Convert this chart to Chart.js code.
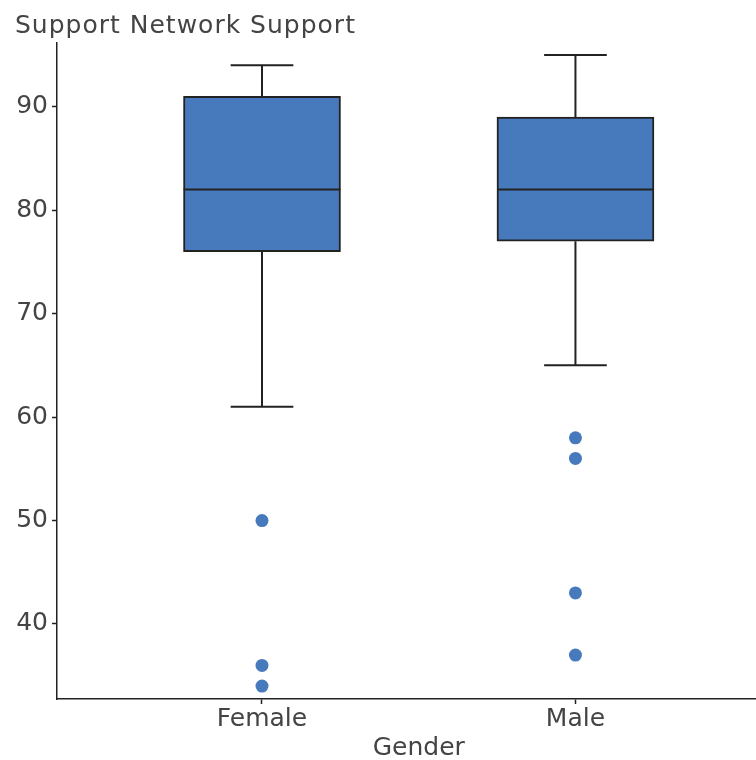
<!DOCTYPE html>
<html><head><meta charset="utf-8">
<script src="https://cdn.jsdelivr.net/npm/chart.js@4"></script>
<style>html,body{margin:0;padding:0;background:#fff}</style>
</head><body>
<canvas id="c" width="756" height="760"></canvas>
<script>
const categories = ['Female', 'Male'];
const lowerWhisker = [61, 65];
const q1 = [76, 77];
const median = [82, 82];
const q3 = [91, 89];
const upperWhisker = [94, 95];
const outliersFemale = [50, 36, 34];
const outliersMale = [58, 56, 43, 37];
const yTicks = [40, 50, 60, 70, 80, 90];
const xTitle = 'Gender';
const yTitle = 'Support Network Support';

const outliers = [outliersFemale, outliersMale];
const BOX_HALF = 0.25, CAP_HALF = 0.1;
const FILL = 'rgb(71,122,189)';
const LINE = '#222';
const TEXT = '#444';
const FONT = 'DejaVu Sans';

const boxData = categories.map((c, i) => ({x: i, y: [q1[i], q3[i]]}));
const outlierData = outliers.flatMap((arr, i) => arr.map(v => ({x: i, y: v})));

const whiskerPlugin = {
  id: 'whiskers',
  afterDatasetsDraw(chart) {
    const {ctx, scales: {x, y}} = chart;
    ctx.save();
    ctx.strokeStyle = LINE;
    ctx.lineWidth = 2;
    categories.forEach((c, i) => {
      const cx = x.getPixelForValue(i);
      const cl = x.getPixelForValue(i - CAP_HALF), cr = x.getPixelForValue(i + CAP_HALF);
      const bl = x.getPixelForValue(i - BOX_HALF), br = x.getPixelForValue(i + BOX_HALF);
      const yU = y.getPixelForValue(upperWhisker[i]);
      const yL = y.getPixelForValue(lowerWhisker[i]);
      const yM = y.getPixelForValue(median[i]);
      ctx.beginPath();
      ctx.moveTo(cx, y.getPixelForValue(q3[i])); ctx.lineTo(cx, yU);
      ctx.moveTo(cl, yU); ctx.lineTo(cr, yU);
      ctx.moveTo(cx, y.getPixelForValue(q1[i])); ctx.lineTo(cx, yL);
      ctx.moveTo(cl, yL); ctx.lineTo(cr, yL);
      ctx.moveTo(bl, yM); ctx.lineTo(br, yM);
      ctx.stroke();
    });
    ctx.restore();
  }
};

const titlePlugin = {
  id: 'titles',
  afterDraw(chart) {
    const {ctx, scales: {x}} = chart;
    ctx.save();
    ctx.fillStyle = TEXT;
    ctx.font = '25px "' + FONT + '"';
    ctx.letterSpacing = '1px';
    ctx.textAlign = 'left';
    ctx.textBaseline = 'alphabetic';
    ctx.fillText(yTitle, 15, 33);
    ctx.letterSpacing = '0px';
    ctx.textAlign = 'center';
    ctx.textBaseline = 'middle';
    const mid = (categories.length - 1) / 2;
    ctx.fillText(xTitle, x.getPixelForValue(mid), 748);
    ctx.restore();
  }
};

new Chart(document.getElementById('c'), {
  type: 'bar',
  data: {
    datasets: [
      {
        type: 'bar',
        data: boxData,
        backgroundColor: FILL,
        borderColor: LINE,
        borderWidth: 2,
        borderSkipped: false,
        barThickness: 157
      },
      {
        type: 'scatter',
        data: outlierData,
        backgroundColor: FILL,
        borderWidth: 0,
        pointRadius: 6.5,
        pointHoverRadius: 6.5
      }
    ]
  },
  options: {
    responsive: false,
    animation: false,
    devicePixelRatio: 1,
    layout: {autoPadding: false, padding: {top: 43, left: 0, right: 0, bottom: 0}},
    plugins: {legend: {display: false}, tooltip: {enabled: false}},
    scales: {
      x: {
        type: 'linear',
        offset: false,
        min: -0.654,
        max: 1.576,
        afterBuildTicks: s => { s.ticks = categories.map((c, i) => ({value: i})); },
        afterFit: s => { s.height = 61; s.paddingRight = 0; s.paddingLeft = 0; },
        grid: {display: true, offset: false, drawOnChartArea: false, drawTicks: true, tickLength: 5, tickColor: LINE, tickWidth: 1.5},
        border: {display: true, color: LINE, width: 1.5},
        ticks: {
          callback: v => categories[v] ?? '',
          color: TEXT,
          font: {family: FONT, size: 25},
          padding: 0,
          maxRotation: 0,
          autoSkip: false
        },
        title: {display: false}
      },
      y: {
        min: 32.75,
        max: 96.16,
        afterBuildTicks: s => { s.ticks = yTicks.map(v => ({value: v})); },
        afterFit: s => { s.width = 57; },
        grid: {display: true, drawOnChartArea: false, drawTicks: true, tickLength: 5, tickColor: LINE, tickWidth: 1.5},
        border: {display: true, color: LINE, width: 1.5},
        ticks: {color: TEXT, font: {family: FONT, size: 25}, padding: 4}
      }
    }
  },
  plugins: [whiskerPlugin, titlePlugin]
});
</script>
</body></html>
